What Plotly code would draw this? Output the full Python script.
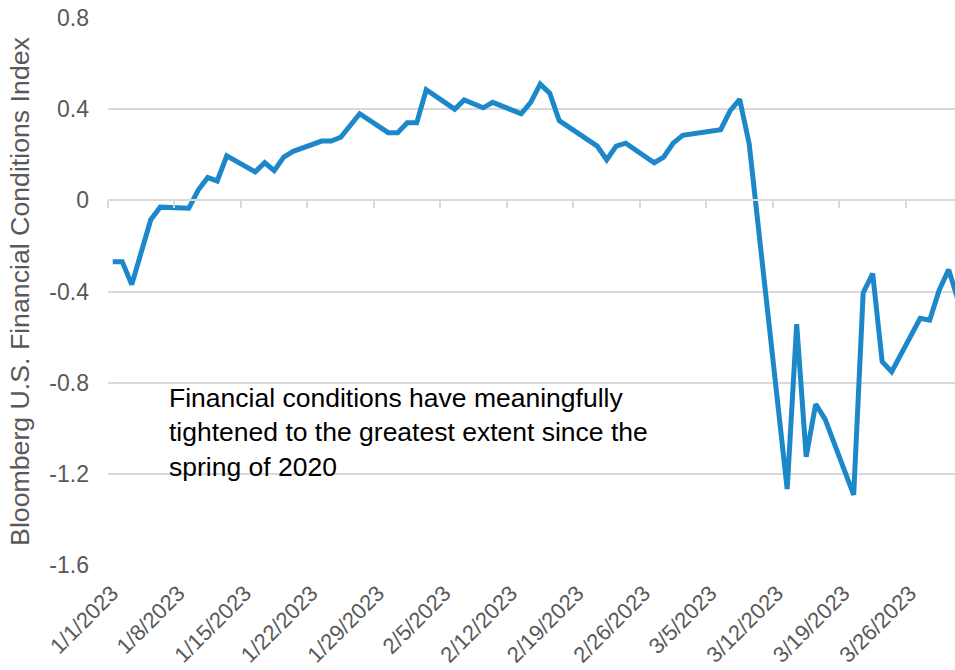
import plotly.graph_objects as go

# Bloomberg U.S. Financial Conditions Index, daily closes, Q1 2023
dates = [
    "2023-01-01", "2023-01-02", "2023-01-03", "2023-01-05", "2023-01-06",
    "2023-01-09", "2023-01-10", "2023-01-11", "2023-01-12", "2023-01-13",
    "2023-01-16", "2023-01-17", "2023-01-18", "2023-01-19", "2023-01-20",
    "2023-01-23", "2023-01-24", "2023-01-25", "2023-01-27",
    "2023-01-30", "2023-01-31", "2023-02-01", "2023-02-02", "2023-02-03",
    "2023-02-06", "2023-02-07", "2023-02-09", "2023-02-10",
    "2023-02-13", "2023-02-14", "2023-02-15", "2023-02-16", "2023-02-17",
    "2023-02-21", "2023-02-22", "2023-02-23", "2023-02-24",
    "2023-02-27", "2023-02-28", "2023-03-01", "2023-03-02",
    "2023-03-06", "2023-03-07", "2023-03-08", "2023-03-09",
    "2023-03-13", "2023-03-14", "2023-03-15", "2023-03-16", "2023-03-17",
    "2023-03-20", "2023-03-21", "2023-03-22", "2023-03-23", "2023-03-24",
    "2023-03-27", "2023-03-28", "2023-03-29", "2023-03-30", "2023-03-31",
]
fci = [
    -0.27, -0.27, -0.37, -0.085, -0.03,
    -0.035, 0.045, 0.10, 0.085, 0.195,
    0.125, 0.165, 0.13, 0.19, 0.215,
    0.26, 0.26, 0.277, 0.38,
    0.297, 0.297, 0.34, 0.34, 0.485,
    0.40, 0.44, 0.406, 0.43,
    0.38, 0.43, 0.51, 0.47, 0.35,
    0.238, 0.178, 0.238, 0.251,
    0.165, 0.19, 0.251, 0.285,
    0.31, 0.394, 0.443, 0.248,
    -1.267, -0.543, -1.125, -0.894, -0.961,
    -1.292, -0.406, -0.321, -0.708, -0.752,
    -0.518, -0.526, -0.394, -0.304, -0.44,
]

# Weekly ticks (Sundays)
tick_dates = [
    "2023-01-01", "2023-01-08", "2023-01-15", "2023-01-22", "2023-01-29",
    "2023-02-05", "2023-02-12", "2023-02-19", "2023-02-26", "2023-03-05",
    "2023-03-12", "2023-03-19", "2023-03-26",
]
tick_labels = [
    "1/1/2023", "1/8/2023", "1/15/2023", "1/22/2023", "1/29/2023",
    "2/5/2023", "2/12/2023", "2/19/2023", "2/26/2023", "3/5/2023",
    "3/12/2023", "3/19/2023", "3/26/2023",
]
y_ticks = [-1.6, -1.2, -0.8, -0.4, 0, 0.4, 0.8]
y_labels = ["-1.6", "-1.2", "-0.8", "-0.4", "0", "0.4", "0.8"]

note = ("Financial conditions have meaningfully<br>"
        "tightened to the greatest extent since the<br>"
        "spring of 2020")

FONT = "Liberation Sans, Arial, sans-serif"
GRID = "#d9d9d9"
LABEL = "#595959"
Y_MIN, Y_MAX = -1.6, 0.8

fig = go.Figure()

fig.add_trace(go.Scatter(
    x=dates, y=fci,
    mode="lines",
    line=dict(color="#1c88c9", width=5),
    xperiod=86400000, xperiodalignment="middle",
    hoverinfo="x+y", showlegend=False,
))

# Invisible copy on the secondary x axis so that axis (drawn at y = 0) renders
fig.add_trace(go.Scatter(
    x=dates, y=fci, xaxis="x2",
    mode="lines", line=dict(width=0), opacity=0,
    hoverinfo="skip", showlegend=False,
))

fig.update_layout(
    width=955, height=670,
    margin=dict(l=108, r=0, t=18, b=105),
    paper_bgcolor="white", plot_bgcolor="white",
    font=dict(family=FONT, color=LABEL),
    xaxis=dict(
        type="date", automargin=False,
        range=["2023-01-01", "2023-03-31 04:00"],
        tickmode="array", tickvals=tick_dates, ticktext=tick_labels,
        tickangle=-45, tickfont=dict(size=22, color=LABEL),
        ticklabelstandoff=10, ticklabelshift=4,
        showgrid=False, showline=False, zeroline=False, ticks="",
    ),
    xaxis2=dict(
        type="date", overlaying="x", matches="x", automargin=False,
        anchor="free", position=(0 - Y_MIN) / (Y_MAX - Y_MIN),
        tickmode="array", tickvals=tick_dates,
        showticklabels=False, showgrid=False, zeroline=False,
        showline=True, linecolor=GRID, linewidth=1.5,
        ticks="outside", ticklen=7, tickwidth=1.5, tickcolor=GRID,
    ),
    yaxis=dict(
        range=[Y_MIN, Y_MAX], automargin=False,
        tickmode="array", tickvals=y_ticks, ticktext=y_labels,
        tickfont=dict(size=23, color=LABEL),
        ticklabelstandoff=18,
        showgrid=True, gridcolor=GRID, gridwidth=1.5,
        zeroline=False, showline=False, ticks="",
        title=dict(text="Bloomberg U.S. Financial Conditions Index",
                   font=dict(size=26.7, color=LABEL), standoff=12),
    ),
    annotations=[dict(
        text=note, xref="paper", yref="paper",
        x=(167 - 108) / 847, y=(565 - 381) / 547,
        xanchor="left", yanchor="top", align="left", showarrow=False,
        font=dict(size=26.5, color="black", family=FONT),
    )],
)

fig.write_html("out.html")
